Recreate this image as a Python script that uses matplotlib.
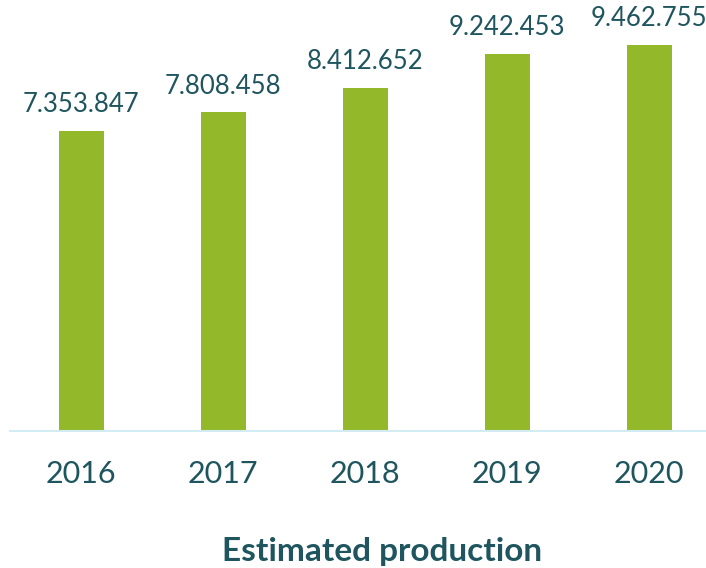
import matplotlib
matplotlib.use("Agg")
import matplotlib.pyplot as plt

# production per year
years = ["2016", "2017", "2018", "2019", "2020"]
production = [7353847, 7808458, 8412652, 9242453, 9462755]
labels = ["7.353.847", "7.808.458", "8.412.652", "9.242.453", "9.462.755"]

GREEN = "#93B82A"
TEAL = "#1E555E"

plt.rcParams['font.family'] = ['Lato', 'DejaVu Sans']

fig = plt.figure(figsize=(7.06, 5.68), dpi=100)
ax = fig.add_axes([10 / 706, 137 / 568, 696 / 706, 431 / 568])

x = list(range(len(years)))
bars = ax.bar(x, production, width=0.317, color=GREEN, zorder=2)

for xi, val, lab in zip(x, production, labels):
    ax.text(xi, val + 330000, lab, ha='center', va='bottom',
            fontsize=18.5, color=TEAL)

ax.set_xlim(-0.5, 4.4)
ax.set_ylim(0, 10560000)

for s in ["top", "right", "left"]:
    ax.spines[s].set_visible(False)
ax.spines["bottom"].set_color("#D3EBF3")
ax.spines["bottom"].set_linewidth(1.5)
ax.set_yticks([])
ax.set_xticks(x)
ax.set_xticklabels(years, fontsize=22, color=TEAL)
ax.tick_params(axis='x', length=0, pad=21)

fig.text(382 / 706, 1 - 551 / 568, "Estimated production", ha='center',
         va='center', fontsize=24, fontweight='bold', color=TEAL)

fig.savefig("out.png", dpi=100)
